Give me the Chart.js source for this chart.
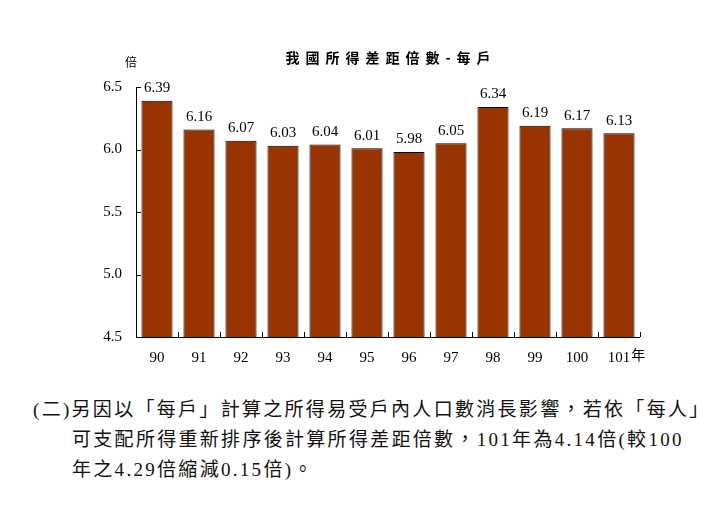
<!DOCTYPE html>
<html>
<head>
<meta charset="utf-8">
<script src="https://cdn.jsdelivr.net/npm/chart.js@4"></script>
<style>
  html, body { margin: 0; padding: 0; background: #fff; width: 718px; height: 505px; overflow: hidden; }
  #wrap { position: absolute; left: 58px; top: 0; width: 660px; height: 380px; }
  #note {
    position: absolute; left: 33px; top: 395px; width: 685px;
    font-family: "Liberation Serif", "Noto Sans CJK TC", serif;
    font-size: 19px; line-height: 30px; color: #111; letter-spacing: 2.3px;
    white-space: nowrap;
  }
  #note .l2 { padding-left: 39px; }
</style>
</head>
<body>
<div id="wrap"><canvas id="c" width="660" height="380"></canvas></div>
<div id="note">
  <div>(二)另因以「每戶」計算之所得易受戶內人口數消長影響，若依「每人」</div>
  <div class="l2">可支配所得重新排序後計算所得差距倍數，101年為4.14倍(較100</div>
  <div class="l2">年之4.29倍縮減0.15倍)。</div>
</div>
<script>
const title = '我國所得差距倍數-每戶';
const yUnit = '倍';
const xUnit = '年';
const years = ['90', '91', '92', '93', '94', '95', '96', '97', '98', '99', '100', '101'];
const ratios = [6.39, 6.16, 6.07, 6.03, 6.04, 6.01, 5.98, 6.05, 6.34, 6.19, 6.17, 6.13];
const yTicks = [4.5, 5.0, 5.5, 6.0, 6.5];

const serif = '"Liberation Serif", "Times New Roman", serif';
const cjk = '"Noto Sans CJK TC", "Noto Sans CJK SC", sans-serif';

const decor = {
  id: 'decor',
  afterDraw(chart) {
    const ctx = chart.ctx;
    const ca = chart.chartArea;
    const xs = chart.scales.x, ys = chart.scales.y;
    ctx.save();
    ctx.strokeStyle = '#000';
    ctx.lineWidth = 1;
    ctx.beginPath();
    ctx.moveTo(Math.round(ca.left) + 0.5, ca.top);
    ctx.lineTo(Math.round(ca.left) + 0.5, Math.round(ca.bottom) + 0.5);
    ctx.lineTo(ca.right, Math.round(ca.bottom) + 0.5);
    ctx.stroke();
    ctx.beginPath();
    yTicks.forEach(v => {
      const y = Math.round(ys.getPixelForValue(v)) + 0.5;
      ctx.moveTo(ca.left, y);
      ctx.lineTo(ca.left + 5, y);
    });
    const n = years.length;
    const w = (ca.right - ca.left) / n;
    for (let i = 0; i <= n; i++) {
      const x = Math.round(ca.left + i * w) + 0.5;
      ctx.moveTo(x, ca.bottom);
      ctx.lineTo(x, ca.bottom - 5);
    }
    ctx.stroke();
    ctx.fillStyle = '#000';
    ctx.font = '15px ' + serif;
    ctx.textAlign = 'center';
    ctx.textBaseline = 'bottom';
    const meta = chart.getDatasetMeta(0);
    meta.data.forEach((bar, i) => {
      ctx.fillText(ratios[i].toFixed(2), bar.x, bar.y - 5);
    });
    ctx.font = 'bold 14px ' + cjk;
    ctx.textBaseline = 'middle';
    if ('letterSpacing' in ctx) ctx.letterSpacing = '6px';
    ctx.textAlign = 'left';
    const tw = ctx.measureText(title).width - 6;
    ctx.fillText(title, (ca.left + ca.right) / 2 - tw / 2, 58);
    if ('letterSpacing' in ctx) ctx.letterSpacing = '0px';
    ctx.font = '12px ' + cjk;
    ctx.textAlign = 'center';
    ctx.fillText(yUnit, ca.left - 5, 62);
    ctx.font = '15px ' + serif;
    const lastX = xs.getPixelForValue(n - 1);
    const lw = ctx.measureText(years[n - 1]).width;
    ctx.font = '14px ' + cjk;
    ctx.textAlign = 'left';
    ctx.fillText(xUnit, lastX + lw / 2 + 1, 355);
    ctx.restore();
  }
};

new Chart(document.getElementById('c'), {
  type: 'bar',
  data: {
    labels: years,
    datasets: [{
      data: ratios,
      backgroundColor: '#993300',
      borderColor: '#000',
      borderWidth: 1,
      borderSkipped: false,
      barPercentage: 0.74,
      categoryPercentage: 1.0
    }]
  },
  options: {
    responsive: false,
    devicePixelRatio: 1,
    animation: false,
    layout: { padding: { left: 0, right: 78, top: 87, bottom: 8 } },
    plugins: { legend: { display: false }, title: { display: false }, tooltip: { enabled: false } },
    scales: {
      x: {
        grid: { display: false, drawTicks: false },
        border: { display: false },
        ticks: { color: '#000', font: { family: serif, size: 15 }, padding: 12, maxRotation: 0 },
        afterFit(s) { s.height = 35; }
      },
      y: {
        min: 4.5, max: 6.5,
        grid: { display: false, drawTicks: false },
        border: { display: false },
        afterBuildTicks(s) { s.ticks = yTicks.map(v => ({ value: v })); },
        ticks: {
          color: '#000', font: { family: serif, size: 15 }, padding: 14,
          callback: v => Number(v).toFixed(1)
        },
        afterFit(s) { s.width = 78; }
      }
    }
  },
  plugins: [decor]
});
</script>
</body>
</html>
